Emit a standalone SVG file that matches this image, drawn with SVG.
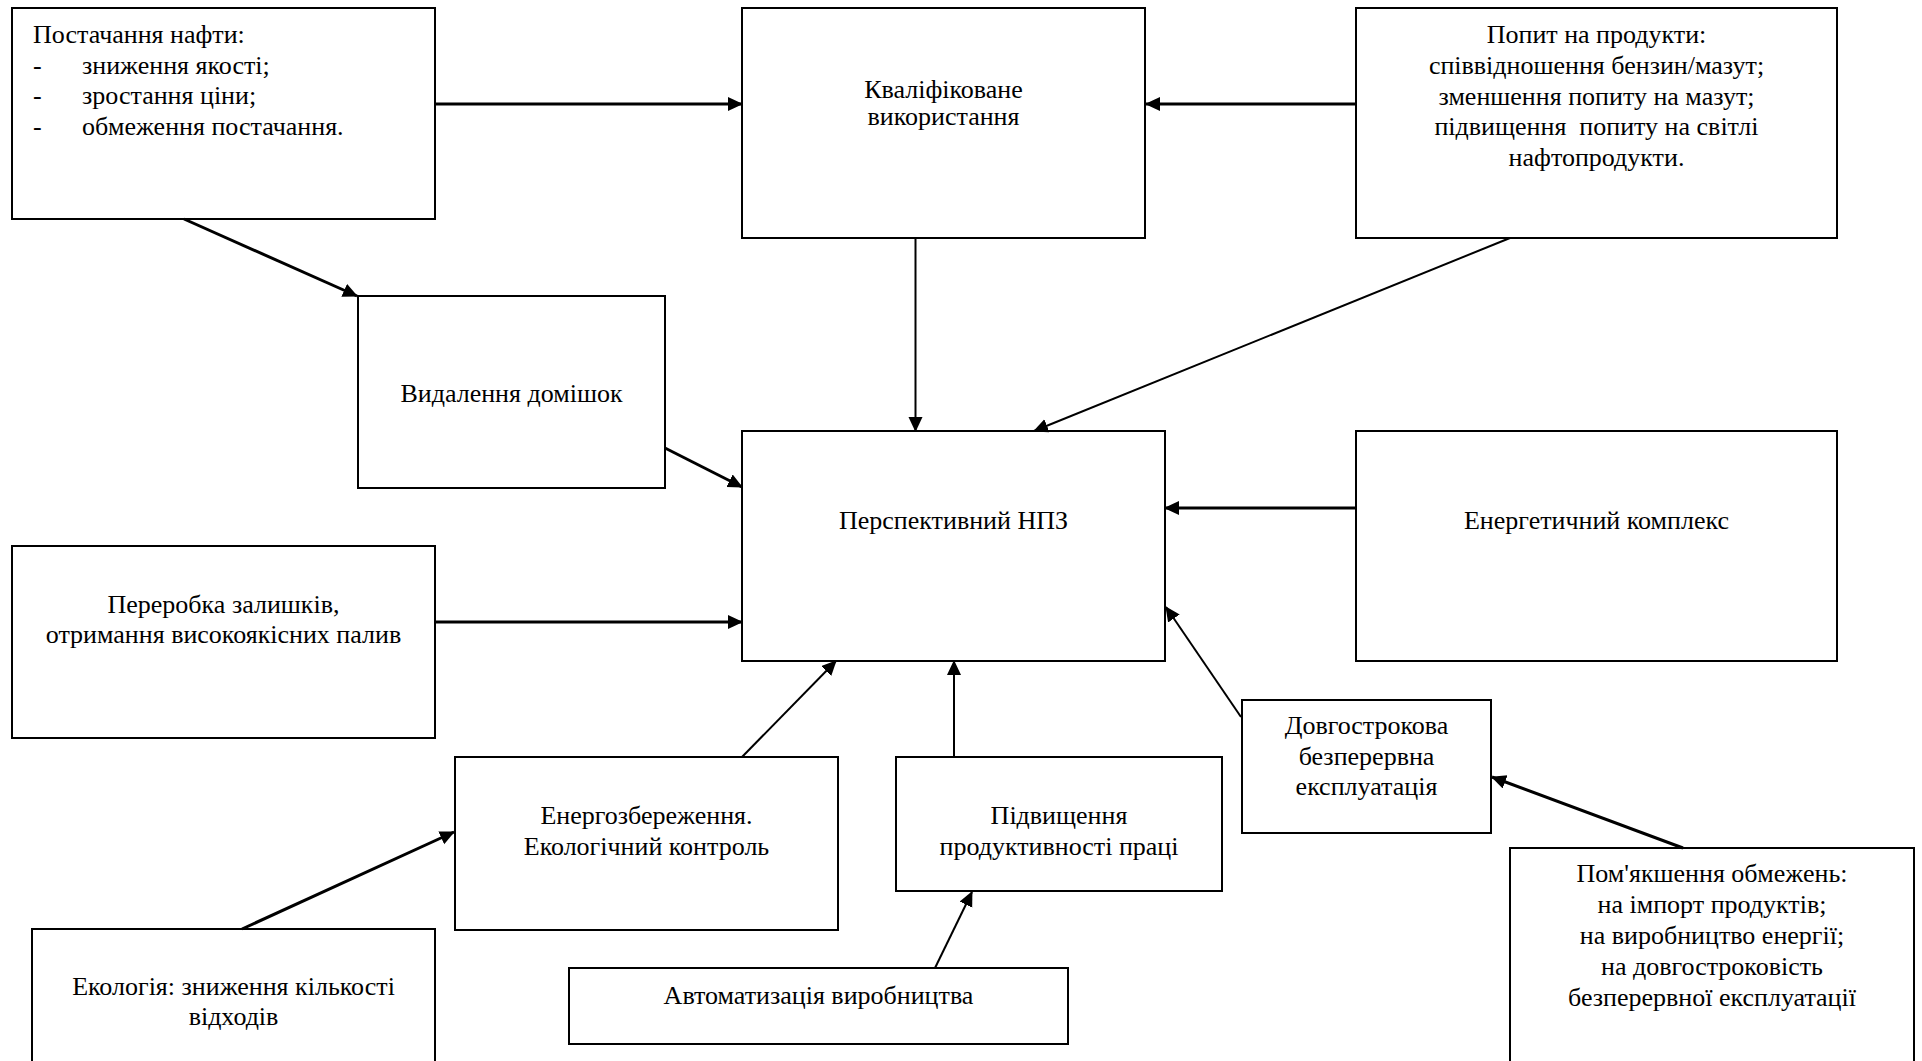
<svg xmlns="http://www.w3.org/2000/svg" width="1922" height="1061" viewBox="0 0 1922 1061">
<style>
.box{fill:#fff;stroke:#000;stroke-width:2}
.t{font-family:'Liberation Serif','Times New Roman',serif;font-size:26px;fill:#000}
.c{text-anchor:middle}
.thick{stroke:#000;stroke-width:3;fill:none;marker-end:url(#ah)}
.thin{stroke:#000;stroke-width:2;fill:none;marker-end:url(#ah)}
</style>
<defs>
<marker id="ah" markerUnits="userSpaceOnUse" markerWidth="16" markerHeight="16" refX="14" refY="7" orient="auto">
<path d="M0,0 L15,7 L0,14 z" fill="#000"/>
</marker>
</defs>
<rect width="1922" height="1061" fill="#fff"/>
<g id="node-supply">
<rect class="box" x="12" y="8" width="423" height="211"/>
<text class="t" x="33" y="43">Постачання нафти:</text>
<text class="t" x="33" y="74">-</text><text class="t" x="82" y="74">зниження якості;</text>
<text class="t" x="33" y="104">-</text><text class="t" x="82" y="104">зростання ціни;</text>
<text class="t" x="33" y="135">-</text><text class="t" x="82" y="135">обмеження постачання.</text>
</g>
<g id="node-qualified">
<rect class="box" x="742" y="8" width="403" height="230"/>
<text class="t c" x="943.5" y="98">Кваліфіковане</text>
<text class="t c" x="943.5" y="125">використання</text>
</g>
<g id="node-demand">
<rect class="box" x="1356" y="8" width="481" height="230"/>
<text class="t c" x="1596.5" y="43">Попит на продукти:</text>
<text class="t c" x="1596.5" y="74">співвідношення бензин/мазут;</text>
<text class="t c" x="1596.5" y="105">зменшення попиту на мазут;</text>
<text class="t c" x="1596.5" y="135">підвищення&#160; попиту на світлі</text>
<text class="t c" x="1596.5" y="166">нафтопродукти.</text>
</g>
<g id="node-impurities">
<rect class="box" x="358" y="296" width="307" height="192"/>
<text class="t c" x="511.5" y="402">Видалення домішок</text>
</g>
<g id="node-residues">
<rect class="box" x="12" y="546" width="423" height="192"/>
<text class="t c" x="223.5" y="613">Переробка залишків,</text>
<text class="t c" x="223.5" y="643">отримання високоякісних палив</text>
</g>
<g id="node-refinery">
<rect class="box" x="742" y="431" width="423" height="230"/>
<text class="t c" x="953.5" y="529">Перспективний НПЗ</text>
</g>
<g id="node-energy">
<rect class="box" x="1356" y="431" width="481" height="230"/>
<text class="t c" x="1596.5" y="529">Енергетичний комплекс</text>
</g>
<g id="node-saving">
<rect class="box" x="455" y="757" width="383" height="173"/>
<text class="t c" x="646.5" y="824">Енергозбереження.</text>
<text class="t c" x="646.5" y="855">Екологічний контроль</text>
</g>
<g id="node-productivity">
<rect class="box" x="896" y="757" width="326" height="134"/>
<text class="t c" x="1059" y="824">Підвищення</text>
<text class="t c" x="1059" y="855">продуктивності праці</text>
</g>
<g id="node-continuous">
<rect class="box" x="1242" y="700" width="249" height="133"/>
<text class="t c" x="1366.5" y="734">Довгострокова</text>
<text class="t c" x="1366.5" y="765">безперервна</text>
<text class="t c" x="1366.5" y="795">експлуатація</text>
</g>
<g id="node-restrictions">
<rect class="box" x="1510" y="848" width="404" height="230"/>
<text class="t c" x="1712" y="882">Пом'якшення обмежень:</text>
<text class="t c" x="1712" y="913">на імпорт продуктів;</text>
<text class="t c" x="1712" y="944">на виробництво енергії;</text>
<text class="t c" x="1712" y="975">на довгостроковість</text>
<text class="t c" x="1712" y="1006">безперервної експлуатації</text>
</g>
<g id="node-ecology">
<rect class="box" x="32" y="929" width="403" height="150"/>
<text class="t c" x="233.5" y="995">Екологія: зниження кількості</text>
<text class="t c" x="233.5" y="1025">відходів</text>
</g>
<g id="node-automation">
<rect class="box" x="569" y="968" width="499" height="76"/>
<text class="t c" x="818.5" y="1004">Автоматизація виробництва</text>
</g>
<g id="connectors">
<line class="thick" x1="435" y1="104" x2="742" y2="104"/>
<line class="thick" x1="1356" y1="104" x2="1146" y2="104"/>
<line class="thick" x1="184" y1="219" x2="357" y2="296"/>
<line class="thick" x1="665" y1="448" x2="742" y2="487"/>
<line class="thick" x1="435" y1="622" x2="742" y2="622"/>
<line class="thick" x1="1356" y1="508" x2="1165" y2="508"/>
<line class="thick" x1="1683" y1="848" x2="1492" y2="777"/>
<line class="thick" x1="242" y1="929" x2="454" y2="832"/>
<line class="thin" x1="915.5" y1="238" x2="915.5" y2="431"/>
<line class="thin" x1="1510" y1="238" x2="1034" y2="431"/>
<line class="thin" x1="742" y1="757" x2="836" y2="661"/>
<line class="thin" x1="954" y1="757" x2="954" y2="661"/>
<line class="thin" x1="1241" y1="717" x2="1166" y2="607"/>
<line class="thin" x1="935" y1="968" x2="972" y2="892"/>
</g>
</svg>
